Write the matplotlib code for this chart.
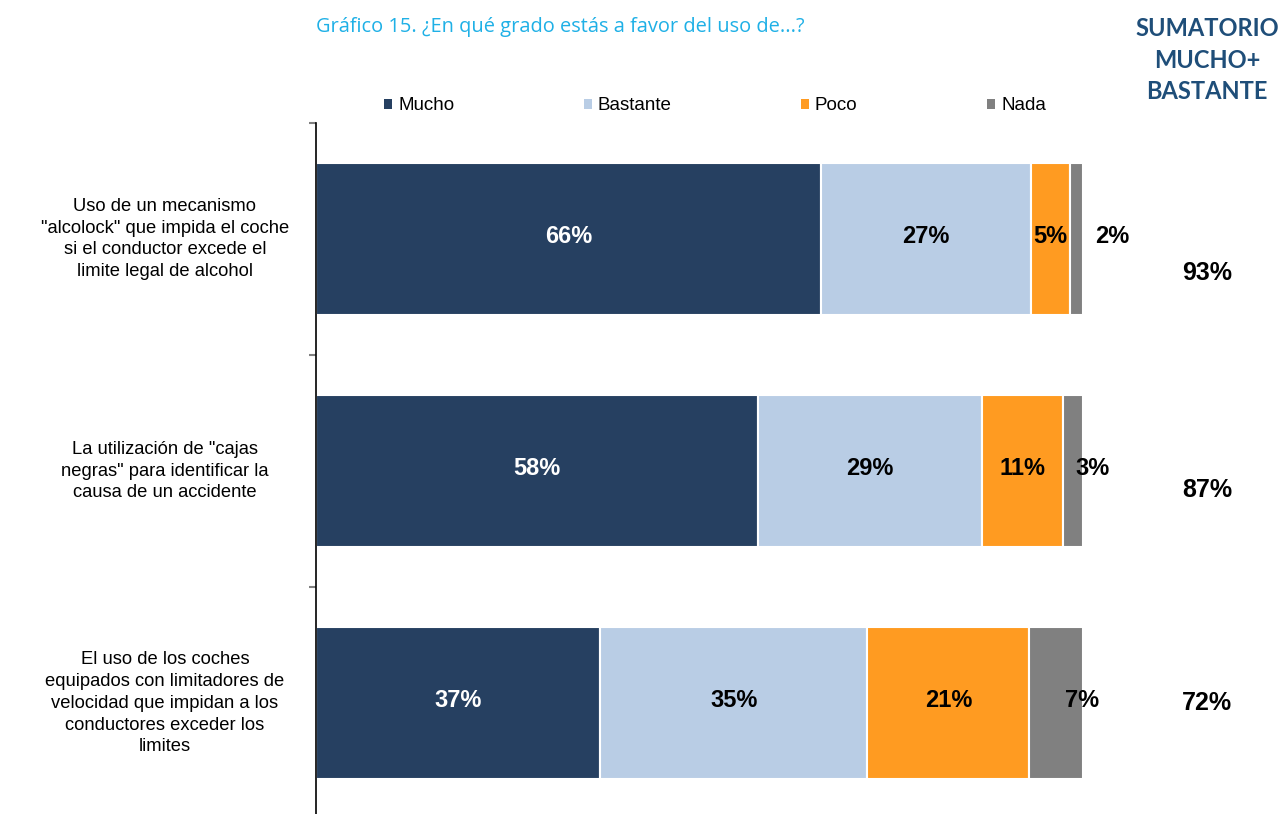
import matplotlib.pyplot as plt
from matplotlib.patches import Patch

# data
categories = [
    'Uso de un mecanismo\n"alcolock" que impida el coche\nsi el conductor excede el\nlimite legal de alcohol',
    'La utilización de "cajas\nnegras" para identificar la\ncausa de un accidente',
    'El uso de los coches\nequipados con limitadores de\nvelocidad que impidan a los\nconductores exceder los\nlimites',
]
series = ["Mucho", "Bastante", "Poco", "Nada"]
mucho = [65.8, 57.6, 37.0]
bastante = [27.4, 29.2, 34.9]
poco = [5.1, 10.6, 21.1]
nada = [1.7, 2.6, 7.0]

colors = ["#264061", "#B9CDE5", "#FF9B21", "#808080"]
label_colors = ["white", "black", "black", "black"]
# Nada labels were nudged right in the original
nada_shift = [4.65, 2.6, 3.4]
sum_dy = [0.147, 0.08, 0.0]

plt.rcParams["font.family"] = ["Liberation Sans", "DejaVu Sans"]

fig = plt.figure(figsize=(12.79, 8.14), dpi=100)
ax = fig.add_axes([316 / 1279, 0, 767 / 1279, 1 - 123 / 814])

values = [mucho, bastante, poco, nada]
y = list(range(len(categories)))
left = [0.0] * len(categories)
for k, vals in enumerate(values):
    ax.barh(y, vals, left=left, height=0.655, color=colors[k],
            edgecolor="white", linewidth=1.5)
    for i, v in enumerate(vals):
        xc = left[i] + v / 2
        if k == 3:
            xc += nada_shift[i]
        ax.text(xc, i - 0.01, f"{round(v)}%", ha="center", va="center",
                fontsize=17, fontweight="bold", color=label_colors[k])
    left = [l + v for l, v in zip(left, vals)]

# sumatorio mucho + bastante
for i in range(len(categories)):
    tot = round(mucho[i] + bastante[i])
    ax.text(1.1617, i + sum_dy[i], f"{tot}%", transform=ax.get_yaxis_transform(),
            ha="center", va="center", fontsize=18, fontweight="bold")

# category labels
for i, cat in enumerate(categories):
    ax.text(-0.197, i, cat, transform=ax.get_yaxis_transform(),
            ha="center", va="center", multialignment="center",
            fontsize=13.2, linespacing=1.38)

ax.set_xlim(0, 100)
ax.set_ylim(2.478, -0.5)
ax.set_yticks([-0.5, 0.5, 1.5])
ax.set_yticklabels([])
ax.set_xticks([])
ax.tick_params(axis="y", direction="out", length=5, width=1.5, color="#808080")
for s in ["top", "right", "bottom"]:
    ax.spines[s].set_visible(False)
ax.spines["left"].set_linewidth(1.2)

handles = [Patch(facecolor=c, edgecolor="none") for c in colors]
fig.legend(handles, series, loc="center", bbox_to_anchor=(0.559, 1 - 106 / 814),
           ncol=4, frameon=False, fontsize=13.5, handlelength=0.45,
           handleheight=0.45, handletextpad=0.3, columnspacing=6.9)

fig.text(316 / 1279, 1 - 27 / 814,
         "Gráfico 15. ¿En qué grado estás a favor del uso de...?",
         ha="left", va="center", fontsize=14.4, color="#1FB0E6",
         family=["Open Sans", "DejaVu Sans"])

fig.text(1207 / 1279, 1 - 60 / 814, "SUMATORIO\nMUCHO+\nBASTANTE",
         ha="center", va="center", fontsize=17, fontweight="bold",
         color="#1F4E79", linespacing=1.45, family=["Lato", "DejaVu Sans"])

fig.savefig("out.png", dpi=100)
